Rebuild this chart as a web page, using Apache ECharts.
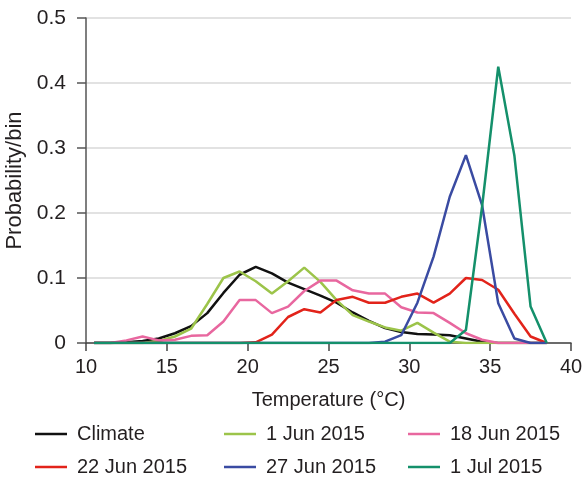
<!DOCTYPE html>
<html>
<head>
<meta charset="utf-8">
<script src="https://cdn.jsdelivr.net/npm/echarts@6/dist/echarts.min.js"></script>
<style>
html,body{margin:0;padding:0;background:#fff;}
#chart{width:584px;height:482px;}
</style>
</head>
<body>
<div id="chart"></div>
<script>
// Bin centres (°C)
var temps = [10.5,11.5,12.5,13.5,14.5,15.5,16.5,17.5,18.5,19.5,20.5,21.5,22.5,23.5,24.5,25.5,26.5,27.5,28.5,29.5,30.5,31.5,32.5,33.5,34.5,35.5,36.5,37.5,38.5];

var seriesNames = ['Climate','1 Jun 2015','18 Jun 2015','22 Jun 2015','27 Jun 2015','1 Jul 2015'];

var climate = [0,0,0.001,0.003,0.007,0.015,0.026,0.046,0.077,0.105,0.117,0.107,0.093,0.083,0.073,0.062,0.047,0.034,0.023,0.017,0.014,0.013,0.012,0.007,0.002,0,0,0,0];
var jun01   = [0,0,0,0,0.003,0.01,0.022,0.06,0.1,0.11,0.095,0.076,0.095,0.116,0.094,0.066,0.043,0.033,0.024,0.019,0.031,0.016,0.002,0,0,0,0,0,0];
var jun18   = [0,0,0.004,0.01,0.004,0.005,0.011,0.012,0.033,0.066,0.066,0.046,0.056,0.08,0.096,0.096,0.081,0.076,0.076,0.055,0.047,0.046,0.031,0.015,0.005,0,0,0,0];
var jun22   = [0,0,0,0,0,0,0,0,0,0,0.001,0.013,0.04,0.052,0.047,0.066,0.071,0.062,0.062,0.071,0.076,0.062,0.076,0.1,0.097,0.082,0.045,0.01,0];
var jun27   = [0,0,0,0,0,0,0,0,0,0,0,0,0,0,0,0,0,0,0.002,0.012,0.062,0.133,0.225,0.289,0.212,0.061,0.007,0,0];
var jul01   = [0,0,0,0,0,0,0,0,0,0,0,0,0,0,0,0,0,0,0,0,0,0,0,0.02,0.21,0.425,0.288,0.056,0];

var xTicks = [10,15,20,25,30,35,40];
var yTicks = [0,0.1,0.2,0.3,0.4,0.5];

var colors = ['#111111','#9cc44a','#e8679f','#e2231a','#3a4ba2','#14906b'];
var allValues = [climate, jun01, jun18, jun22, jun27, jul01];

function pairs(vals){ return temps.map(function(t,i){ return [t, vals[i]]; }); }

var font = 'Liberation Sans, Arial, Helvetica, sans-serif';
var txt = '#231f20';

var series = seriesNames.map(function(n, i){
  return {
    name: n, type: 'line', data: pairs(allValues[i]),
    symbol: 'none', smooth: false,
    lineStyle: {width: 2.5, color: colors[i]},
    itemStyle: {color: colors[i]},
    z: 2 + i
  };
});

function legend(names, left){
  return {
    orient: 'vertical', left: left, top: 424, padding: 0,
    itemGap: 13, itemWidth: 32, itemHeight: 2.5, icon: 'rect',
    data: names,
    selectedMode: false,
    textStyle: {fontFamily: font, fontSize: 20, color: txt, lineHeight: 20, padding: [0,0,0,5]}
  };
}

var chart = echarts.init(document.getElementById('chart'), null, {renderer: 'canvas'});
chart.setOption({
  animation: false,
  color: colors,
  grid: {left: 86, right: 13, top: 18, bottom: 139, containLabel: false, outerBoundsMode: 'none'},
  legend: [
    legend([seriesNames[0], seriesNames[3]], 35),
    legend([seriesNames[1], seriesNames[4]], 224),
    legend([seriesNames[2], seriesNames[5]], 408)
  ],
  xAxis: {
    type: 'value', min: xTicks[0], max: xTicks[xTicks.length-1], interval: 5,
    name: 'Temperature (°C)', nameLocation: 'middle', nameGap: 47,
    nameTextStyle: {fontFamily: font, fontSize: 20, color: txt},
    axisLine: {show: true, onZero: false, lineStyle: {color: '#444', width: 1.5}},
    axisTick: {show: true, length: 8, inside: false, lineStyle: {color: '#444', width: 1.5}},
    axisLabel: {fontFamily: font, fontSize: 20, color: txt, margin: 14},
    splitLine: {show: false}
  },
  yAxis: {
    type: 'value', min: yTicks[0], max: yTicks[yTicks.length-1], interval: 0.1,
    name: 'Probability/bin', nameLocation: 'middle', nameGap: 56, nameRotate: 90,
    nameTextStyle: {fontFamily: font, fontSize: 22, color: txt},
    axisLine: {show: true, lineStyle: {color: '#555', width: 1.5}},
    axisTick: {show: true, length: 9, inside: false, lineStyle: {color: '#555', width: 1.5}},
    axisLabel: {fontFamily: font, fontSize: 21, color: txt, margin: 20},
    splitLine: {show: true, lineStyle: {color: '#d9d9d9', width: 1.5}}
  },
  series: series
});
</script>
</body>
</html>
